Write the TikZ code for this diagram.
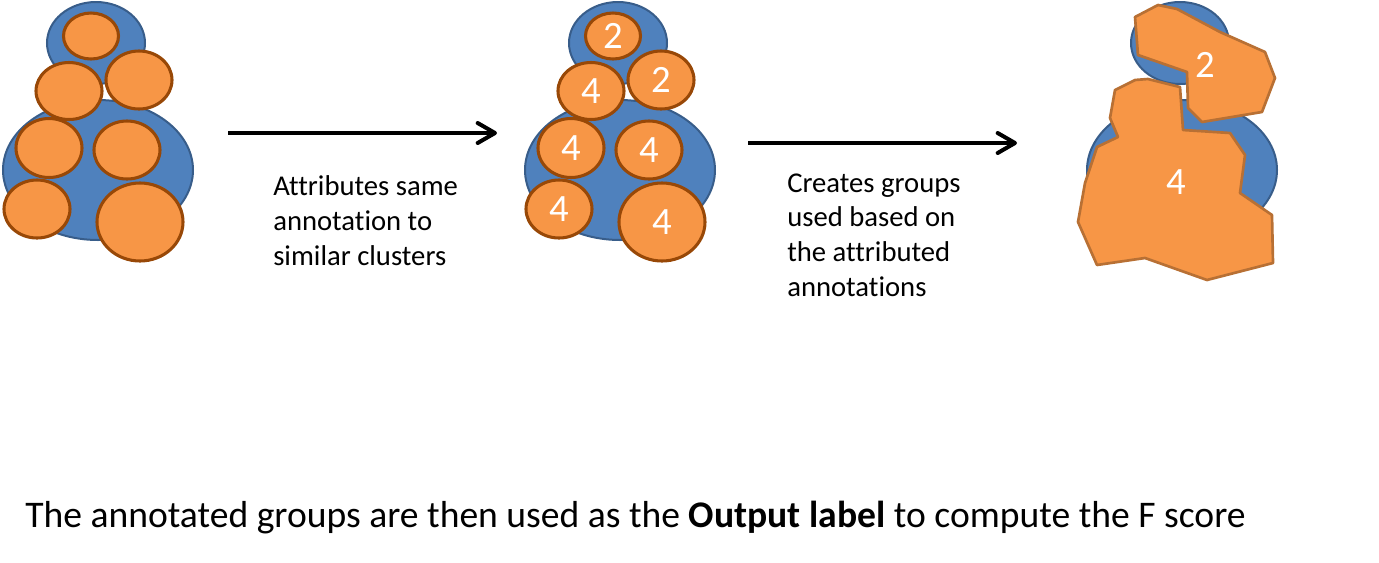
\documentclass[tikz,border=0pt]{standalone}
\usepackage{fontspec}
\setmainfont[Ligatures=CommonOff]{Carlito}
\usetikzlibrary{arrows.meta}

\definecolor{clusterblue}{RGB}{79,129,189}
\definecolor{clusterline}{RGB}{56,93,138}
\definecolor{annorange}{RGB}{247,150,70}
\definecolor{annline}{RGB}{152,72,7}
\definecolor{groupline}{RGB}{184,112,52}

\tikzset{
  cluster/.style={fill=clusterblue, draw=clusterline, line width=1.5pt},
  subcluster/.style={fill=annorange, draw=annline, line width=2.3pt},
  group/.style={fill=annorange, draw=groupline, line width=2pt, line join=round},
  annot/.style={text=white, inner sep=0pt, font=\fontsize{29}{33}\selectfont},
  flowarrow/.style={line width=3pt, -{Straight Barb[length=13pt, width=15pt, round]}},
  caption/.style={align=left, anchor=base west, inner sep=0pt,
    font=\fontsize{21.5}{26}\selectfont}
}

% centre x / centre y / radius x / radius y / annotation of each sub-cluster
\newcommand{\subclusters}{91/36/27.5/23/2, 69/91/33/28.5/4, 139/80/33/29/2,
  49/148/33/29.5/4, 127/150/33/29/4, 37/209/33/29/4, 140/222/43/39/4}

\begin{document}
\begin{tikzpicture}[x=0.75pt, y=-0.75pt]
  \useasboundingbox (0,0) rectangle (1379,562);

  % blue clusters, same outline at all three stages
  \foreach \shift in {0,522,1084}{
    \begin{scope}[shift={(\shift,0)}]
      \draw[cluster] (96,43) ellipse [x radius=49, y radius=41];
      \draw[cluster] (98,170) ellipse [x radius=95, y radius=70];
    \end{scope}
  }

  % stage 1: plain sub-clusters
  \foreach \cx/\cy/\rx/\ry/\tag in \subclusters{
    \draw[subcluster] (\cx,\cy) ellipse [x radius=\rx, y radius=\ry];
  }

  % stage 2: the same sub-clusters, annotated
  \begin{scope}[shift={(522,0)}]
    \foreach \cx/\cy/\rx/\ry/\tag [count=\i] in \subclusters{
      \draw[subcluster] (\cx,\cy) ellipse [x radius=\rx, y radius=\ry];
      \node[annot] (tag-\i) at (\cx,\cy) {\tag};
    }
  \end{scope}

  % stage 3: merged groups
  \draw[group] (1135,17) -- (1158,5) -- (1177,9) -- (1220,32) -- (1265,52)
    -- (1275,78) -- (1262,112) -- (1202,122) -- (1188,108) -- (1187,72)
    -- (1138,55) -- cycle;
  \draw[group] (1115,90) -- (1135,80) -- (1148,79) -- (1180,87) -- (1183,130)
    -- (1230,133) -- (1245,155) -- (1240,193) -- (1272,215) -- (1273,263)
    -- (1207,280) -- (1145,258) -- (1097,265) -- (1078,222) -- (1085,183)
    -- (1097,147) -- (1118,137) -- (1110,118) -- cycle;
  \node[annot] (group-two) at (1205,65) {2};
  \node[annot] (group-four) at (1176,182) {4};

  % arrows between the stages
  \coordinate (arrowAstart) at (228,133);
  \coordinate (arrowAend)   at (497,133);
  \coordinate (arrowBstart) at (748,143);
  \coordinate (arrowBend)   at (1017,143);
  \draw[flowarrow] (arrowAstart) -- (arrowAend);
  \draw[flowarrow] (arrowBstart) -- (arrowBend);

  % base of a multi-line node is its last line
  \node[caption] (attribtext) at (273,265)
    {Attributes same\\annotation to\\similar clusters};
  \node[caption] (grouptext) at (787,296)
    {Creates groups\\used based on\\the attributed\\annotations};

  \node[anchor=base west, inner sep=0pt, font=\fontsize{28.2}{33}\selectfont]
    (outputtext) at (25,527)
    {The annotated groups are then used as the \textbf{Output label} to compute the F score};
\end{tikzpicture}
\end{document}
